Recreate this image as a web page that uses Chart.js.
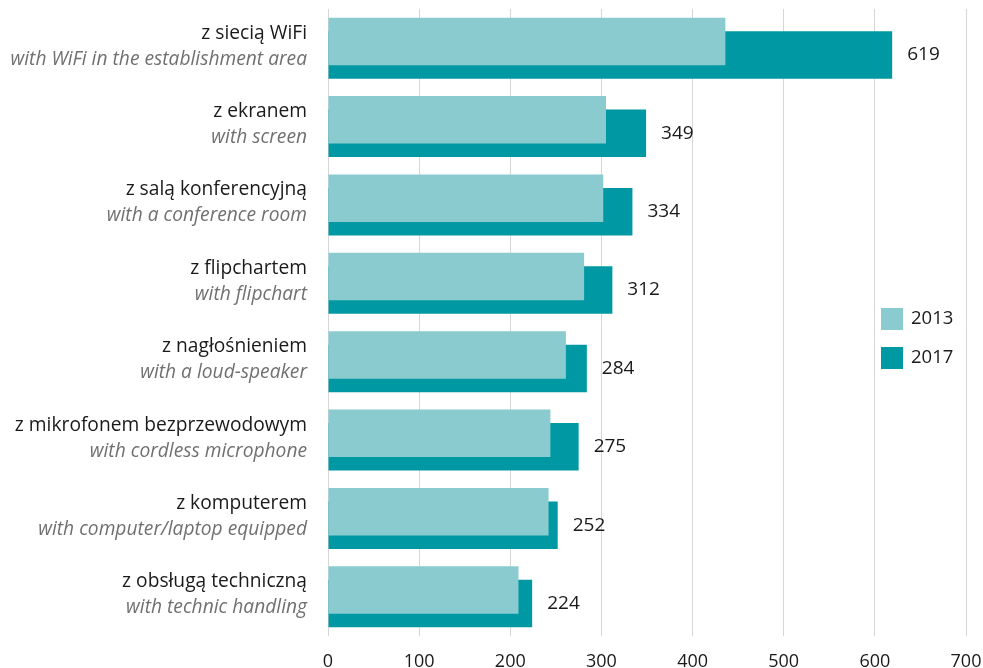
<!DOCTYPE html>
<html>
<head>
<meta charset="utf-8">
<script src="https://cdn.jsdelivr.net/npm/chart.js@4/dist/chart.umd.min.js"></script>
<style>
  body { margin: 0; background: #fff; }
  #wrap { width: 983px; height: 668px; position: relative; }
</style>
</head>
<body>
<div id="wrap"><canvas id="chart"></canvas></div>
<script>
// categories (polish / english)
var labels_pl = [
  "z siecią WiFi",
  "z ekranem",
  "z salą konferencyjną",
  "z flipchartem",
  "z nagłośnieniem",
  "z mikrofonem bezprzewodowym",
  "z komputerem",
  "z obsługą techniczną"
];
var labels_en = [
  "with WiFi in the establishment area",
  "with screen",
  "with a conference room",
  "with flipchart",
  "with a loud-speaker",
  "with cordless microphone",
  "with computer/laptop equipped",
  "with technic handling"
];

var years = ["2013", "2017"];
var values_2013 = [436, 305, 302, 281, 261, 244, 242, 209];
var values_2017 = [619, 349, 334, 312, 284, 275, 252, 224];

var x_ticks = [0, 100, 200, 300, 400, 500, 600, 700];

var light_teal = "#8acbd0";
var dark_teal = "#0098a3";
var font_name = "'Open Sans', sans-serif";

// category labels on the left, two lines each
var side_labels = {
  id: "side_labels",
  afterDraw: function(chart) {
    var ctx = chart.ctx;
    var y_scale = chart.scales.y;
    var right = chart.chartArea.left - 21;
    ctx.save();
    ctx.textAlign = "right";
    ctx.textBaseline = "middle";
    for (var i = 0; i < labels_pl.length; i++) {
      var y = y_scale.getPixelForValue(i);
      ctx.font = "19.2px " + font_name;
      ctx.fillStyle = "#1a1a1a";
      ctx.fillText(labels_pl[i], right, y - 15);
      ctx.font = "italic 19.2px " + font_name;
      ctx.fillStyle = "#707070";
      ctx.fillText(labels_en[i], right, y + 11);
    }
    ctx.restore();
  }
};

// numbers after the 2017 bars
var value_labels = {
  id: "value_labels",
  afterDatasetsDraw: function(chart) {
    var ctx = chart.ctx;
    var meta = chart.getDatasetMeta(1);
    ctx.save();
    ctx.font = "19px " + font_name;
    ctx.fillStyle = "#1a1a1a";
    ctx.textAlign = "left";
    ctx.textBaseline = "middle";
    meta.data.forEach(function(bar, i) {
      ctx.fillText(String(values_2017[i]), bar.x + 15, bar.y);
    });
    ctx.restore();
  }
};

// legend on the right side
var side_legend = {
  id: "side_legend",
  afterDraw: function(chart) {
    var ctx = chart.ctx;
    var colors = [light_teal, dark_teal];
    ctx.save();
    ctx.font = "18.5px " + font_name;
    ctx.textAlign = "left";
    ctx.textBaseline = "middle";
    for (var i = 0; i < years.length; i++) {
      var top = 308 + i * 39;
      ctx.fillStyle = colors[i];
      ctx.fillRect(881, top, 22, 22);
      ctx.fillStyle = "#1a1a1a";
      ctx.fillText(years[i], 911, top + 11);
    }
    ctx.restore();
  }
};

var ctx = document.getElementById("chart").getContext("2d");

var chart = new Chart(ctx, {
  type: "bar",
  data: {
    labels: labels_pl,
    datasets: [
      {
        label: years[0],
        data: values_2013,
        backgroundColor: light_teal,
        categoryPercentage: 0.344,
        barPercentage: 3.52
      },
      {
        label: years[1],
        data: values_2017,
        backgroundColor: dark_teal,
        categoryPercentage: 0.344,
        barPercentage: 3.52
      }
    ]
  },
  options: {
    indexAxis: "y",
    responsive: true,
    maintainAspectRatio: false,
    animation: false,
    layout: {
      padding: { left: 328, right: 17, top: 9, bottom: 0 }
    },
    scales: {
      x: {
        min: 0,
        max: 700,
        afterBuildTicks: function(axis) {
          axis.ticks = x_ticks.map(function(v) { return { value: v }; });
        },
        afterFit: function(axis) {
          axis.paddingLeft = 0;
          axis.paddingRight = 0;
          axis.height = 32;
        },
        grid: { color: "#d6d6d6", lineWidth: 1, drawTicks: false },
        border: { display: false },
        ticks: {
          padding: 15,
          color: "#1a1a1a",
          font: { family: font_name, size: 18 }
        }
      },
      y: {
        display: false
      }
    },
    plugins: {
      legend: { display: false },
      tooltip: { enabled: false }
    }
  },
  plugins: [side_labels, value_labels, side_legend]
});
</script>
</body>
</html>
